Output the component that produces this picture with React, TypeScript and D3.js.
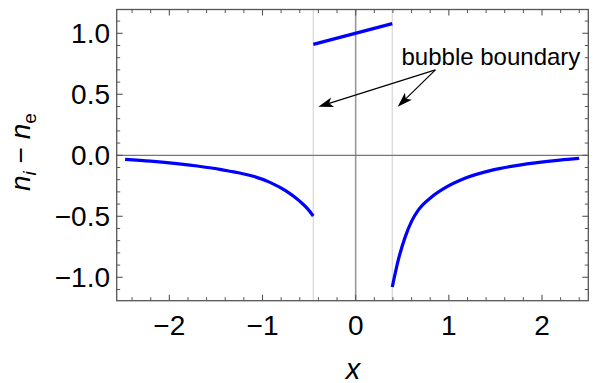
import React from "react";
import * as d3 from "d3";

const leftX = [-2.475, -2.2, -1.92, -1.7, -1.456, -1.349, -1.2, -1.099, -0.92, -0.74, -0.598, -0.52, -0.455];
const leftY = [-0.033, -0.048, -0.068, -0.088, -0.116, -0.131, -0.153, -0.172, -0.222, -0.296, -0.378, -0.435, -0.498];
const midX = [-0.455, 0.393];
const midY = [0.909, 1.079];
const rightX = [0.393, 0.457, 0.529, 0.601, 0.672, 0.815, 0.958, 1.173, 1.476, 1.835, 2.192, 2.399];
const rightY = [-1.08, -0.86, -0.675, -0.54, -0.45, -0.342, -0.268, -0.189, -0.12, -0.071, -0.039, -0.025];
const boundaries = [-0.455, 0.393];
const xMajor = [-2, -1, 0, 1, 2];
const xTickLabels = ["−2", "−1", "0", "1", "2"];
const yMajor = [-1, -0.5, 0, 0.5, 1];
const yTickLabels = ["−1.0", "−0.5", "0.0", "0.5", "1.0"];
const annotationText = "bubble boundary";
const annotationAnchor = [1.452, 0.74];
const arrowTail = [0.856, 0.7];
const arrowHeads = [[-0.401, 0.398], [0.451, 0.398]];

export default function App() {
  const W = 595, H = 383;
  const L = 116.7, R = 588.3, T = 9.5, B = 300.7;
  const x = d3.scaleLinear().domain([-2.565, 2.497]).range([L, R]);
  const y = d3.scaleLinear().domain([-1.192, 1.195]).range([B, T]);
  const font = "'Liberation Sans', Arial, Helvetica, sans-serif";
  const line = d3.line<[number, number]>().x(d => x(d[0])).y(d => y(d[1])).curve(d3.curveMonotoneX);
  const seg = (xs: number[], ys: number[]) => line(xs.map((v, i) => [v, ys[i]] as [number, number])) || "";

  const xMinor = d3.range(-24, 25, 2).map(v => v / 10).filter(v => !xMajor.some(m => Math.abs(m - v) < 1e-9));
  const yMinor = d3.range(-11, 12).map(v => v / 10).filter(v => !yMajor.some(m => Math.abs(m - v) < 1e-9));
  const tickColor = "#555";
  const maj = 6, mnr = 3.5;

  const arrow = (hx: number, hy: number, key: number) => {
    const x0 = x(arrowTail[0]), y0 = y(arrowTail[1]);
    const x1 = x(hx), y1 = y(hy);
    const dx = x1 - x0, dy = y1 - y0;
    const len = Math.hypot(dx, dy);
    const ux = dx / len, uy = dy / len;
    const hl = 15, hw = 5;
    const bx = x1 - ux * hl, by = y1 - uy * hl;
    const pts = [[x1, y1], [bx - uy * hw, by + ux * hw], [x1 - ux * hl * 0.75, y1 - uy * hl * 0.75], [bx + uy * hw, by - ux * hw]];
    return (
      <g key={key}>
        <line x1={x0} y1={y0} x2={x1 - ux * hl * 0.7} y2={y1 - uy * hl * 0.7} stroke="#000" strokeWidth={1.2} />
        <polygon points={pts.map(p => p.join(",")).join(" ")} fill="#000" />
      </g>
    );
  };

  return (
    <svg width={W} height={H} style={{ position: "absolute", left: 0, top: 0, background: "#fff" }} fontFamily={font}>
      {boundaries.map((b, i) => (
        <line key={i} x1={x(b)} x2={x(b)} y1={T} y2={B} stroke="#d6d6d6" strokeWidth={1.2} />
      ))}
      <line x1={x(0)} x2={x(0)} y1={T} y2={B} stroke="#999" strokeWidth={1.6} />
      <line x1={L} x2={R} y1={y(0)} y2={y(0)} stroke="#777" strokeWidth={1.2} />
      <path d={seg(leftX, leftY)} fill="none" stroke="#0000ff" strokeWidth={3.2} />
      <path d={seg(midX, midY)} fill="none" stroke="#0000ff" strokeWidth={3.2} />
      <path d={seg(rightX, rightY)} fill="none" stroke="#0000ff" strokeWidth={3.2} />
      <rect x={L} y={T} width={R - L} height={B - T} fill="none" stroke={tickColor} strokeWidth={1.3} />
      {xMajor.map(v => (
        <g key={"xm" + v}>
          <line x1={x(v)} x2={x(v)} y1={B} y2={B - maj} stroke={tickColor} strokeWidth={1.1} />
          <line x1={x(v)} x2={x(v)} y1={T} y2={T + maj} stroke={tickColor} strokeWidth={1.1} />
        </g>
      ))}
      {xMinor.map(v => (
        <g key={"xn" + v}>
          <line x1={x(v)} x2={x(v)} y1={B} y2={B - mnr} stroke={tickColor} strokeWidth={1} />
          <line x1={x(v)} x2={x(v)} y1={T} y2={T + mnr} stroke={tickColor} strokeWidth={1} />
        </g>
      ))}
      {yMajor.map(v => (
        <g key={"ym" + v}>
          <line x1={L} x2={L + maj} y1={y(v)} y2={y(v)} stroke={tickColor} strokeWidth={1.1} />
          <line x1={R} x2={R - maj} y1={y(v)} y2={y(v)} stroke={tickColor} strokeWidth={1.1} />
        </g>
      ))}
      {yMinor.map(v => (
        <g key={"yn" + v}>
          <line x1={L} x2={L + mnr} y1={y(v)} y2={y(v)} stroke={tickColor} strokeWidth={1} />
          <line x1={R} x2={R - mnr} y1={y(v)} y2={y(v)} stroke={tickColor} strokeWidth={1} />
        </g>
      ))}
      {xMajor.map((v, i) => (
        <text key={"xl" + v} x={x(v)} y={335} fontSize={28} textAnchor="middle" fill="#000">{xTickLabels[i]}</text>
      ))}
      {yMajor.map((v, i) => (
        <text key={"yl" + v} x={110} y={y(v) + 10} fontSize={28} textAnchor="end" fill="#000">{yTickLabels[i]}</text>
      ))}
      <text x={353} y={379} fontSize={29} fontStyle="italic" textAnchor="middle" fill="#000">x</text>
      <text transform={`translate(30, ${(T + B) / 2 - 3}) rotate(-90)`} fontSize={28} textAnchor="middle" fill="#000">
        <tspan fontStyle="italic">n</tspan>
        <tspan fontStyle="italic" fontSize={19} dy={6}>i</tspan>
        <tspan dy={-6}> − </tspan>
        <tspan fontStyle="italic">n</tspan>
        <tspan fontSize={19} dy={6}>e</tspan>
      </text>
      <text x={x(annotationAnchor[0])} y={y(annotationAnchor[1])} fontSize={24} textAnchor="middle" fill="#000">{annotationText}</text>
      {arrowHeads.map((h, i) => arrow(h[0], h[1], i))}
    </svg>
  );
}
